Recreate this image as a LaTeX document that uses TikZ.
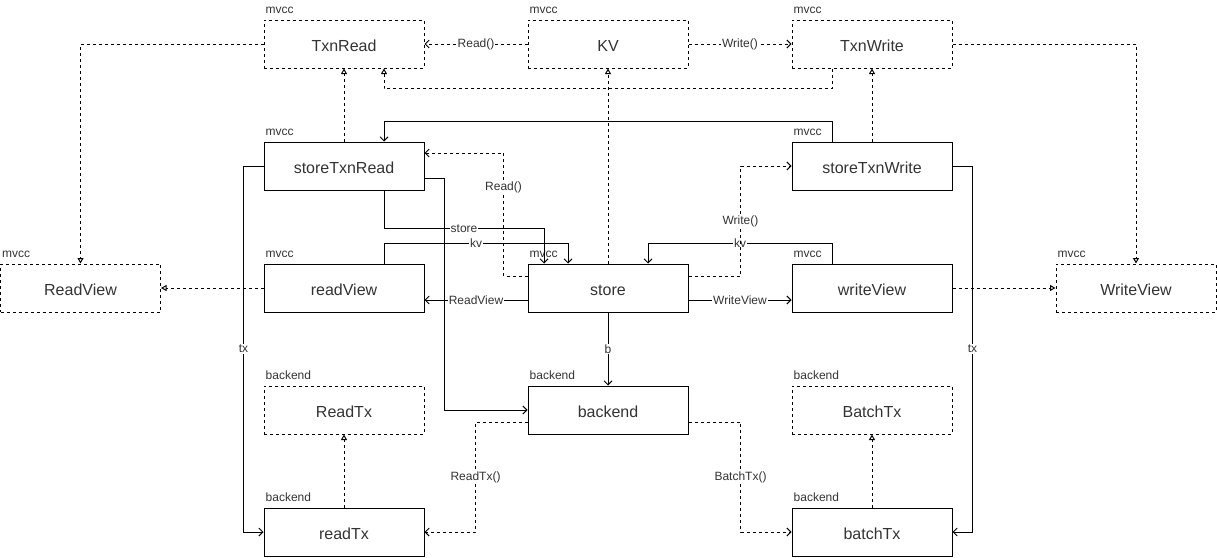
\documentclass[tikz,border=0pt]{standalone}
\usepackage{fontspec}
\setmainfont{Liberation Sans}
\usetikzlibrary{arrows.meta}
\begin{document}
\begin{tikzpicture}[x=1pt,y=-1pt,
  box/.style={draw, line width=1pt, minimum width=160pt, minimum height=48pt, inner sep=0pt,
    text height=14.6pt, text depth=0pt,
    font=\fontsize{16}{19}\selectfont, text=black!80},
  ifbox/.style={box, dash pattern=on 3pt off 3pt},
  pkg/.style={anchor=base west, inner sep=0pt, font=\fontsize{12}{14}\selectfont, text=black!80},
  lbl/.style={fill=white, inner sep=1pt, font=\fontsize{12}{14}\selectfont, text=black!80},
  sopen/.style={draw, line width=1pt, -{Straight Barb[length=4pt,width=8pt]}},
  dopen/.style={sopen, dash pattern=on 3pt off 3pt},
  dtri/.style={draw, line width=1pt, dash pattern=on 3pt off 3pt, -{Triangle[open,length=5.5pt,width=6pt]}}
]
\useasboundingbox (0,0) rectangle (1217,557);
% interfaces
\node[ifbox] (TxnRead) at (344,44) {TxnRead};
\node[ifbox] (KV) at (608,44) {KV};
\node[ifbox] (TxnWrite) at (872,44) {TxnWrite};
\node[ifbox] (RV) at (80.5,288) {ReadView};
\node[ifbox] (WV) at (1136,288) {WriteView};
\node[ifbox] (RTx) at (344,410) {ReadTx};
\node[ifbox] (BTx) at (872,410) {BatchTx};
% structs
\node[box] (sTR) at (344,166) {storeTxnRead};
\node[box] (sTW) at (872,166) {storeTxnWrite};
\node[box] (rv) at (344,288) {readView};
\node[box] (store) at (608,288) {store};
\node[box] (wv) at (872,288) {writeView};
\node[box] (backend) at (608,410) {backend};
\node[box] (rtx) at (344,532) {readTx};
\node[box] (btx) at (872,532) {batchTx};
% package labels
\foreach \n/\p in {TxnRead/mvcc, KV/mvcc, TxnWrite/mvcc, RV/mvcc, WV/mvcc, RTx/backend, BTx/backend,
  sTR/mvcc, sTW/mvcc, rv/mvcc, store/mvcc, wv/mvcc, backend/backend, rtx/backend, btx/backend}
  \node[pkg] (pk\n) at ([xshift=2pt,yshift=6pt]\n.north west) {\p};
% connectors
\draw[dopen] (KV) -- node[lbl]{Read()} (TxnRead);
\draw[dopen] (KV) -- node[lbl]{Write()} (TxnWrite);
\draw[dtri] (TxnRead.west) -| (RV.north);
\draw[dtri] (TxnWrite.east) -| (WV.north);
\draw[dtri] (sTR.north) -- (TxnRead.south);
\draw[dtri] (sTW.north) -- (TxnWrite.south);
\draw[dtri] ([xshift=-40pt]TxnWrite.south) -- ++(0,20) -| ([xshift=40pt]TxnRead.south);
\draw[dtri] (store.north) -- (KV.south);
\draw[sopen] ([xshift=-40pt]sTW.north) -- ++(0,-20) -| ([xshift=40pt]sTR.north);
\draw[sopen] ([xshift=40pt]sTR.south) |- node[lbl,pos=0.75]{store} ++(160,38) -- ([xshift=-64pt]store.north);
\draw[sopen] ([xshift=40pt]rv.north) -- ++(0,-20) -- node[lbl]{kv} ++(184,0) -- ([xshift=-40pt]store.north);
\draw[sopen] ([xshift=-40pt]wv.north) -- ++(0,-20) -- node[lbl]{kv} ++(-184,0) -- ([xshift=40pt]store.north);
\draw[dopen] ([yshift=12pt]store.west) -- ++(-24,0) |- node[lbl,pos=0.36]{Read()} ([yshift=13pt]sTR.east);
\draw[dopen] ([yshift=12pt]store.east) -- ++(52,0) |- node[lbl,pos=0.25]{Write()} (sTW.west);
\draw[sopen] ([yshift=-12pt]store.west) -- node[lbl]{ReadView} ([yshift=-12pt]rv.east);
\draw[sopen] ([yshift=-12pt]store.east) -- node[lbl]{WriteView} ([yshift=-12pt]wv.west);
\draw[dtri] (rv.west) -- (RV.east);
\draw[dtri] (wv.east) -- (WV.west);
\draw[sopen] (store.south) -- node[lbl]{b} (backend.north);
\draw[sopen] ([yshift=-12pt]sTR.east) -- ++(20,0) |- (backend.west);
\draw[sopen] (sTR.west) -- ++(-20,0) |- node[lbl,pos=0.25]{tx} (rtx.west);
\draw[sopen] (sTW.east) -- ++(20,0) |- node[lbl,pos=0.25]{tx} (btx.east);
\draw[dtri] (rtx.north) -- (RTx.south);
\draw[dtri] (btx.north) -- (BTx.south);
\draw[dopen] ([yshift=-12pt]backend.west) -- ++(-52,0) |- node[lbl,pos=0.25]{ReadTx()} (rtx.east);
\draw[dopen] ([yshift=-12pt]backend.east) -- ++(52,0) |- node[lbl,pos=0.25]{BatchTx()} (btx.west);
\end{tikzpicture}
\end{document}
